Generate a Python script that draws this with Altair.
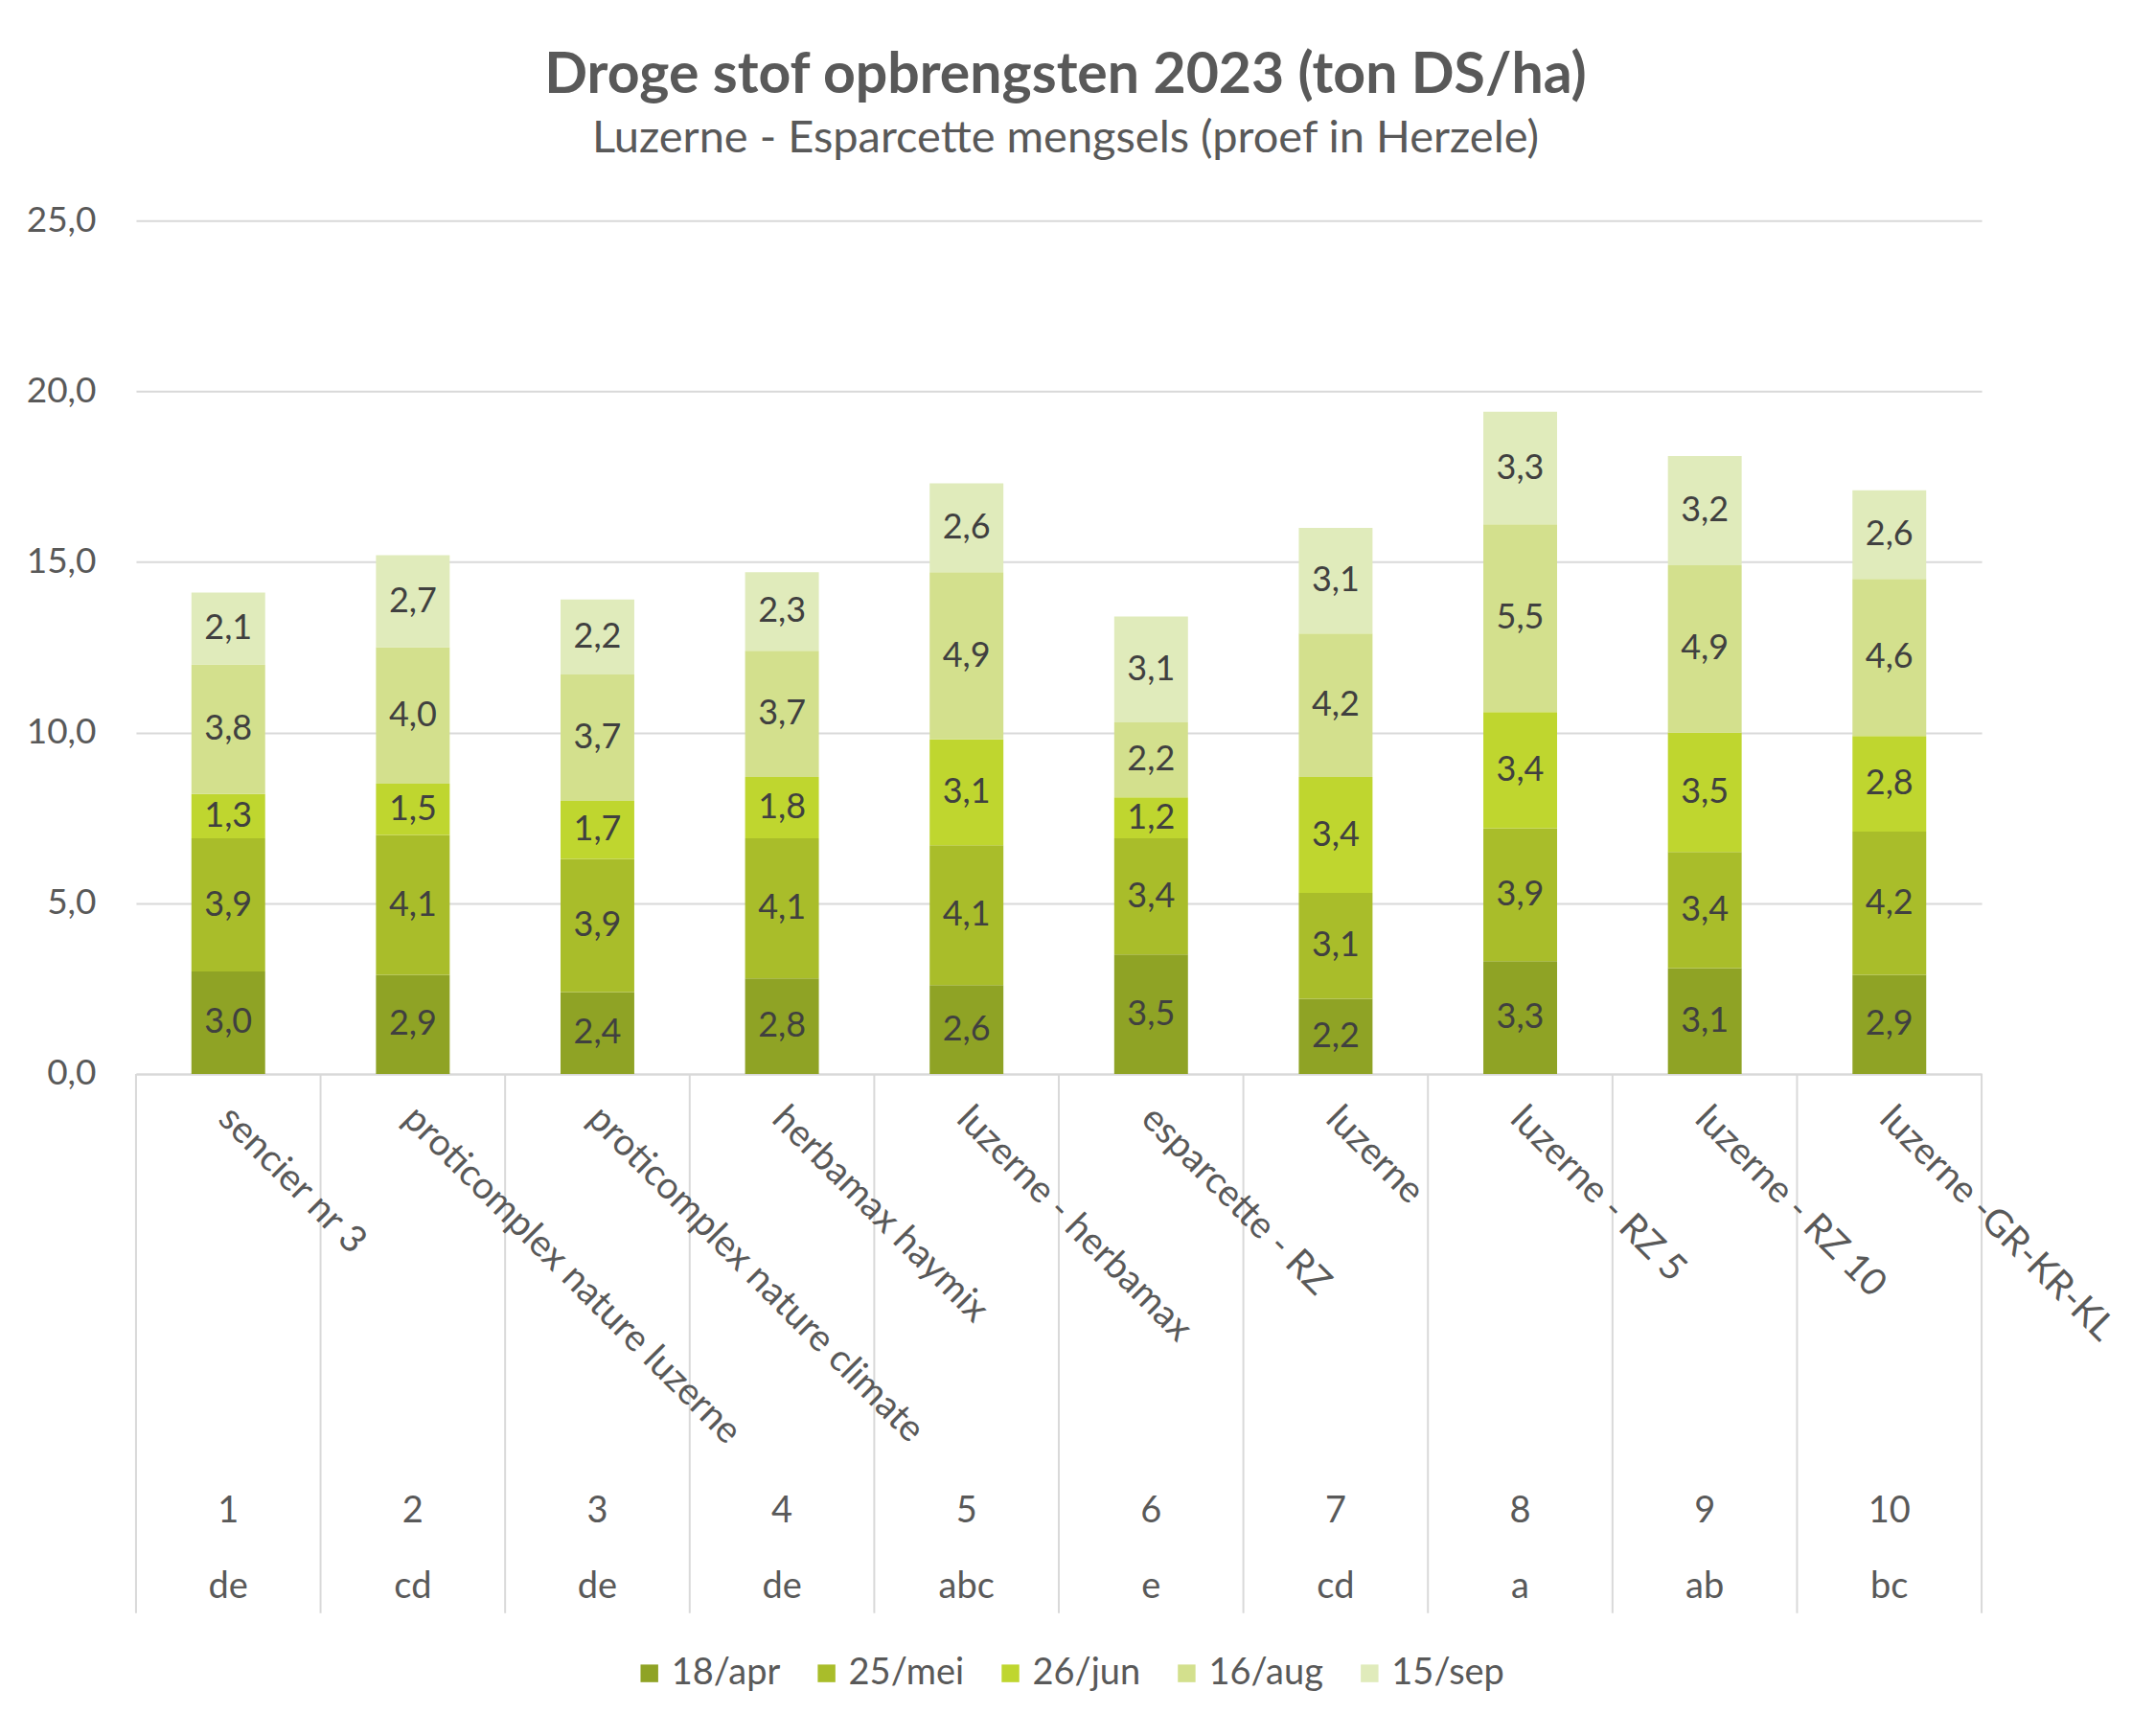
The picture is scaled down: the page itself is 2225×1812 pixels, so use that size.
import altair as alt
import pandas as pd

categories = ["sencier nr 3", "proticomplex nature luzerne", "proticomplex nature climate",
              "herbamax haymix", "luzerne - herbamax", "esparcette - RZ", "luzerne",
              "luzerne - RZ 5", "luzerne - RZ 10", "luzerne -GR-KR-KL"]
numbers = ["1", "2", "3", "4", "5", "6", "7", "8", "9", "10"]
letters = ["de", "cd", "de", "de", "abc", "e", "cd", "a", "ab", "bc"]
dates = ["18/apr", "25/mei", "26/jun", "16/aug", "15/sep"]
apr18 = [3.0, 2.9, 2.4, 2.8, 2.6, 3.5, 2.2, 3.3, 3.1, 2.9]
mei25 = [3.9, 4.1, 3.9, 4.1, 4.1, 3.4, 3.1, 3.9, 3.4, 4.2]
jun26 = [1.3, 1.5, 1.7, 1.8, 3.1, 1.2, 3.4, 3.4, 3.5, 2.8]
aug16 = [3.8, 4.0, 3.7, 3.7, 4.9, 2.2, 4.2, 5.5, 4.9, 4.6]
sep15 = [2.1, 2.7, 2.2, 2.3, 2.6, 3.1, 3.1, 3.3, 3.2, 2.6]
colors = ["#8fa325", "#a9bd2a", "#bfd62f", "#d3e08d", "#e0ebbb"]

series = [apr18, mei25, jun26, aug16, sep15]
rows = []
for si, (d, vals) in enumerate(zip(dates, series)):
    for ci, v in enumerate(vals):
        rows.append({"idx": ci + 1, "date": d, "order": si, "value": v})
df = pd.DataFrame(rows)

cat_df = pd.DataFrame({"idx": list(range(1, len(categories) + 1)),
                       "name": categories, "num": numbers, "letter": letters})
bound_df = pd.DataFrame({"b": [i + 0.5 for i in range(len(categories) + 1)]})

W, H = 1927, 891
FONT = "Lato"
GRID = "#d9d9d9"
TXT = "#595959"

xscale = alt.Scale(domain=[0.5, len(categories) + 0.5], nice=False, zero=False, padding=0)
yscale = alt.Scale(domain=[0, 25], nice=False)

base = alt.Chart(df).transform_stack(
    stack="value", groupby=["idx"], as_=["y0", "y1"],
    sort=[alt.SortField("order", order="ascending")]
).transform_calculate(
    mid="(datum.y0 + datum.y1) / 2",
    lbl="replace(format(datum.value, '.1f'), '.', ',')"
)

bars = base.mark_bar(width=77).encode(
    x=alt.X("idx:Q", scale=xscale,
            axis=alt.Axis(labels=False, ticks=False, grid=False, title=None,
                          domainColor=GRID, domainWidth=2)),
    y=alt.Y("y0:Q", scale=yscale,
            axis=alt.Axis(values=[0, 5, 10, 15, 20, 25], title=None,
                          labelExpr="replace(format(datum.value, '.1f'), '.', ',')",
                          domain=False, ticks=False, gridColor=GRID, gridWidth=2,
                          labelFontSize=37, labelColor=TXT, labelFont=FONT,
                          labelPadding=42)),
    y2="y1:Q",
    color=alt.Color("date:N", scale=alt.Scale(domain=dates, range=colors),
                    legend=alt.Legend(orient="none", direction="horizontal", title=None,
                                      legendX=517, legendY=1498,
                                      symbolType="square", symbolSize=340,
                                      symbolStrokeWidth=0, labelFontSize=38,
                                      labelColor=TXT, labelFont=FONT,
                                      columnPadding=29)),
    order=alt.Order("order:Q")
)

labels = base.mark_text(fontSize=36, font=FONT, color="#404040").encode(
    x=alt.X("idx:Q", scale=xscale),
    y=alt.Y("mid:Q", scale=yscale),
    text="lbl:N"
)

seps = alt.Chart(bound_df).mark_rule(color=GRID, strokeWidth=2).encode(
    x=alt.X("b:Q", scale=xscale),
    y=alt.value(H),
    y2=alt.value(H + 563)
)

names = alt.Chart(cat_df).mark_text(angle=45, align="left", baseline="middle",
                                    fontSize=39, font=FONT, color=TXT, dx=-5).encode(
    x=alt.X("idx:Q", scale=xscale),
    y=alt.value(H + 44),
    text="name:N"
)

nums = alt.Chart(cat_df).mark_text(fontSize=38, font=FONT, color=TXT).encode(
    x=alt.X("idx:Q", scale=xscale),
    y=alt.value(H + 457),
    text="num:N"
)

lets = alt.Chart(cat_df).mark_text(fontSize=38, font=FONT, color=TXT).encode(
    x=alt.X("idx:Q", scale=xscale),
    y=alt.value(H + 536),
    text="letter:N"
)

chart = alt.layer(bars, labels, seps, names, nums, lets).properties(
    width=W, height=H,
    background="white",
    title=alt.TitleParams(
        text="Droge stof opbrengsten 2023 (ton DS/ha)",
        subtitle="Luzerne - Esparcette mengsels (proef in Herzele)",
        fontSize=59, fontWeight="bold", color=TXT, font=FONT,
        subtitleFontSize=47, subtitleColor=TXT, subtitleFont=FONT,
        subtitlePadding=13, anchor="middle", offset=43, dx=7
    ),
    autosize=alt.AutoSizeParams(type="none"),
    padding={"left": 134, "top": 222, "right": 149, "bottom": 660}
).configure_view(stroke=None)

chart.save("out.html", embed_options={"renderer": "svg", "actions": False})
